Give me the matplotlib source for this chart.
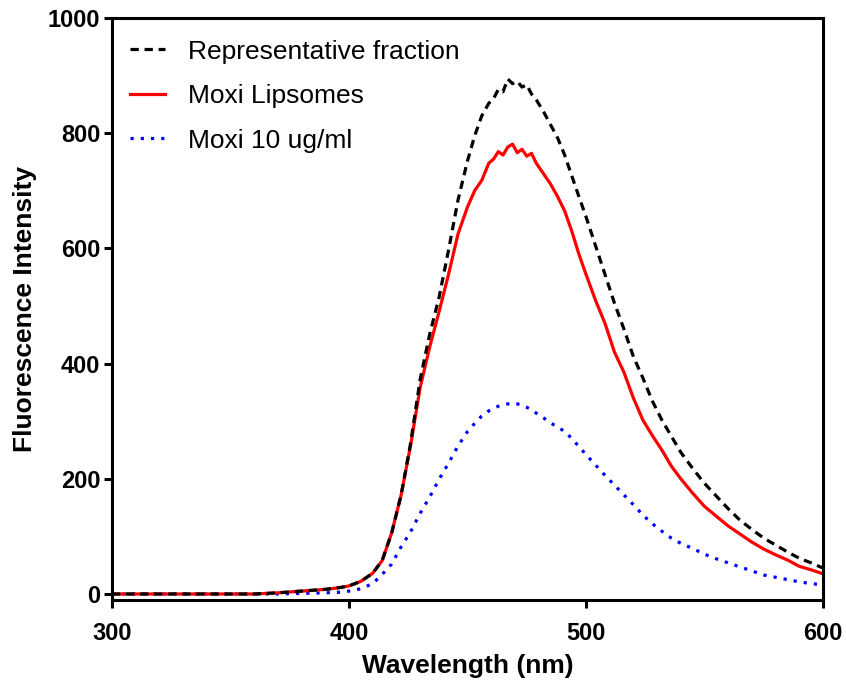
import matplotlib

matplotlib.use("Agg")
import matplotlib.pyplot as plt

plt.rcParams["font.family"] = ["Liberation Sans", "DejaVu Sans"]

# wavelength grid (nm) shared by the three spectra
wavelength = [300, 320, 340, 360, 370, 380, 390, 396, 400, 405, 410, 414, 418, 422, 426,
              430, 434, 438, 442, 446, 450, 453, 456, 459, 461, 463, 465, 467, 469, 471,
              473, 475, 477, 479, 482, 485, 488, 491, 494, 497, 500, 504, 508, 512, 516,
              520, 524, 528, 532, 536, 540, 545, 550, 555, 560, 565, 570, 575, 580, 585,
              590, 595, 600]

# representative fraction (black dashed)
rep_fraction = [0, 0, 0, 0, 2, 5, 8, 11, 14, 22, 36, 58, 106, 172, 262,
                372, 450, 515, 597, 684, 752, 795, 830, 852, 860, 876, 872, 894, 886, 890,
                880, 884, 868, 858, 838, 815, 792, 762, 726, 690, 655, 605, 555, 505, 460,
                412, 375, 335, 302, 274, 246, 218, 192, 170, 148, 128, 112, 97, 85, 73,
                62, 54, 45]

# moxi liposomes (red solid)
moxi_lipo = [0, 0, 0, 0, 2, 5, 8, 11, 14, 22, 36, 58, 106, 172, 258,
             358, 428, 490, 555, 625, 672, 700, 718, 748, 755, 768, 762, 776, 781, 766,
             772, 760, 765, 748, 730, 712, 690, 665, 630, 590, 555, 510, 470, 420, 385,
             340, 302, 275, 250, 222, 200, 175, 152, 135, 118, 104, 90, 78, 68, 59,
             48, 42, 35]

# moxi 10 ug/ml (blue dotted)
moxi_free = [0, 0, 0, 0, 0, 1, 2, 3, 5, 9, 18, 34, 52, 82, 108,
             140, 168, 199, 227, 257, 282, 296, 309, 318, 322, 326, 328, 330, 331, 330,
             328, 324, 320, 314, 306, 297, 290, 282, 270, 256, 242, 224, 206, 189, 172,
             155, 137, 122, 109, 97, 88, 79, 69, 61, 54, 47, 40, 33, 29, 25,
             21, 18, 16]

x_ticks = [300, 400, 500, 600]
y_ticks = [0, 200, 400, 600, 800, 1000]

fig = plt.figure(figsize=(8.46, 6.81), dpi=100)
ax = fig.add_axes([0.1324, 0.1189, 0.8404, 0.8547])

lw = 2.3
ax.plot(wavelength, rep_fraction, color="black", lw=lw, dashes=(2.6, 1.8),
        label="Representative fraction", zorder=3)
ax.plot(wavelength, moxi_lipo, color="#ff0000", lw=lw, label="Moxi Lipsomes", zorder=2)
ax.plot(wavelength, moxi_free, color="#0000ff", lw=lw, dashes=(1.0, 2.2),
        label="Moxi 10 ug/ml", zorder=1)

ax.set_xlim(300, 600)
ax.set_ylim(-10.5, 1000)
ax.set_xticks(x_ticks)
ax.set_yticks(y_ticks)

for s in ax.spines.values():
    s.set_linewidth(2.2)
ax.tick_params(axis="both", direction="out", length=5.5, width=2.2, pad=3,
               labelsize=17)
ax.tick_params(axis="x", pad=10)
for lab in ax.get_xticklabels() + ax.get_yticklabels():
    lab.set_fontweight("bold")

ax.set_xlabel("Wavelength (nm)", fontsize=19, fontweight="bold", labelpad=7)
ax.set_ylabel("Fluorescence Intensity", fontsize=19, fontweight="bold", labelpad=8)

ax.legend(loc="upper left", bbox_to_anchor=(0.025, 0.963), frameon=False,
          fontsize=19, handlelength=1.35, handletextpad=0.85, labelspacing=0.78,
          borderaxespad=0, borderpad=0)

fig.savefig("out.png", dpi=100)
